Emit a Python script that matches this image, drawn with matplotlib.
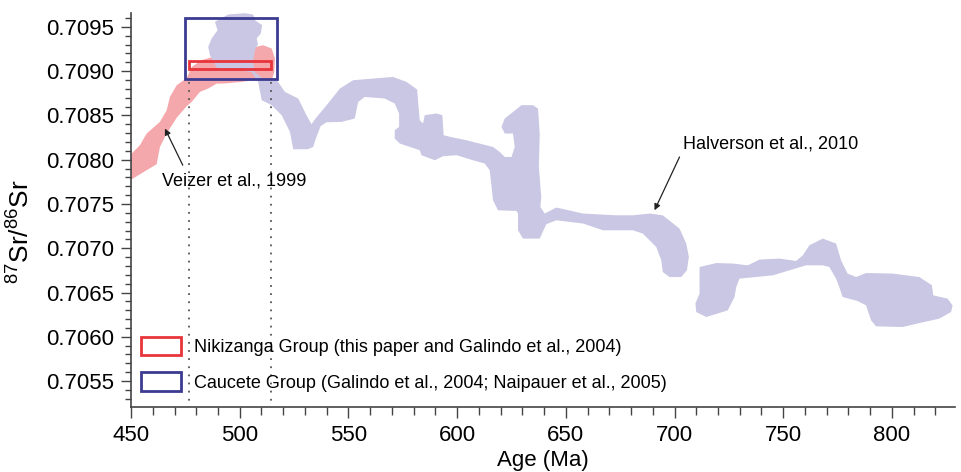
import matplotlib
matplotlib.use("Agg")
import matplotlib.pyplot as plt
from matplotlib.patches import Polygon, Rectangle, Patch
from matplotlib.ticker import MultipleLocator, FormatStrFormatter

plt.rcParams['font.family'] = ['Liberation Sans', 'DejaVu Sans']
plt.rcParams['mathtext.fontset'] = 'custom'
plt.rcParams['mathtext.rm'] = 'Liberation Sans'
plt.rcParams['mathtext.it'] = 'Liberation Sans'

# Veizer et al. (1999) seawater envelope, outline (age Ma, 87Sr/86Sr)
veizer_age = [450.0, 454.1, 457.2, 463.3, 466.4, 467.9, 471.0, 475.6, 477.9, 482.5,
              486.3, 490.0, 500.1, 507.0, 510.8, 514.7, 516.2, 515.9, 514.7,
              510.2, 506.2, 500.9, 493.2, 489.4, 485.5, 481.7, 477.9, 475.6,
              471.0, 466.4, 463.3, 461.8, 456.4, 450.0]
veizer_sr = [0.708062, 0.708164, 0.708296, 0.708427, 0.708559, 0.708709, 0.708842,
             0.708921, 0.709048, 0.709124, 0.709152, 0.709169, 0.709203, 0.709271,
             0.709293, 0.709256, 0.709143, 0.708992, 0.708898,
             0.708887, 0.708898, 0.708879, 0.708861, 0.708859, 0.708804, 0.708766,
             0.708653, 0.708604, 0.708474, 0.708296, 0.708144, 0.707949, 0.707870,
             0.707774]

# Halverson et al. (2010) envelope, main part
halverson_age = [490.1, 486.3, 485.5, 487.1, 489.8, 488.6, 494.7, 502.4, 506.2, 507.0,
                 510.3, 509.7, 507.8, 508.4, 507.0, 506.1, 507.0, 510.2, 513.9, 517.1,
                 520.8, 526.9, 530.7, 533.0, 535.0, 539.2, 543.0, 546.1, 552.2, 570.5,
                 576.7, 581.6, 582.0, 582.8, 584.3, 585.1, 590.5, 593.2, 593.8, 598.1,
                 604.3, 616.5, 619.6, 621.9, 625.0, 626.5, 625.7, 621.9, 620.4, 621.9,
                 629.6, 634.9, 637.2, 638.0, 637.6, 638.7, 638.3, 640.3, 645.6, 657.9,
                 673.2, 680.8, 688.5, 694.6, 702.3, 705.4, 706.6, 705.7, 703.1, 697.7,
                 694.6, 693.9, 691.6, 685.4, 680.8, 667.1, 657.9, 645.6, 641.0, 638.0,
                 630.3, 628.0, 628.0, 627.3, 618.8, 616.5, 615.0, 612.7, 607.3, 599.7,
                 593.5, 589.7, 583.6, 582.8, 573.6, 571.3, 571.3, 573.3, 573.3, 571.3,
                 566.7, 557.5, 554.5, 553.7, 552.9, 546.8, 539.9, 537.2, 535.0, 533.8,
                 531.3, 524.6, 523.1, 519.3, 514.7, 510.1, 508.5, 505.6, 500.1, 493.2]
halverson_sr = [0.709011, 0.709180, 0.709274, 0.709369, 0.709463, 0.709557, 0.709640,
                0.709655, 0.709640, 0.709576, 0.709519, 0.709426, 0.709369, 0.709305,
                0.709237, 0.709101, 0.708988, 0.708921, 0.708898, 0.708898, 0.708766,
                0.708691, 0.708503, 0.708401, 0.708469, 0.708593, 0.708709, 0.708804,
                0.708898, 0.708935, 0.708879, 0.708793, 0.708672, 0.708446, 0.708409,
                0.708503, 0.708522, 0.708503, 0.708276, 0.708251, 0.708220, 0.708144,
                0.708088, 0.708031, 0.708031, 0.708144, 0.708296, 0.708296, 0.708370,
                0.708465, 0.708616, 0.708616, 0.708578, 0.708296, 0.707918, 0.707579,
                0.707466, 0.707392, 0.707460, 0.707392, 0.707372, 0.707372, 0.707392,
                0.707372, 0.707222, 0.707053, 0.706901, 0.706751, 0.706675, 0.706675,
                0.706732, 0.706864, 0.707014, 0.707166, 0.707203, 0.707203, 0.707279,
                0.707316, 0.707271, 0.707109, 0.707109, 0.707203, 0.707392, 0.707421,
                0.707429, 0.707542, 0.707881, 0.707957, 0.707994, 0.708051, 0.708039,
                0.707994, 0.708051, 0.708107, 0.708183, 0.708239, 0.708333, 0.708370,
                0.708522, 0.708635, 0.708691, 0.708709, 0.708653, 0.708559, 0.708465,
                0.708427, 0.708423, 0.708378, 0.708239, 0.708144, 0.708118, 0.708118,
                0.708314, 0.708503, 0.708616, 0.708672, 0.708879, 0.708988, 0.709011,
                0.709011]

# Halverson et al. (2010) envelope, older part
halverson_old_age = [711.5, 719.2, 726.8, 733.7, 739.1, 748.3, 755.9, 759.0, 762.0, 768.2,
                     774.3, 776.6, 779.6, 783.5, 788.1, 800.3, 812.6, 818.4, 819.0, 825.6,
                     827.9, 827.2, 821.8, 812.6, 804.9, 792.7, 790.4, 788.1, 784.2, 777.3,
                     775.8, 774.3, 771.2, 768.2, 760.5, 752.9, 745.2, 729.9, 728.4, 727.6,
                     724.5, 714.6, 710.0, 709.6, 711.5]
halverson_old_sr = [0.706788, 0.706833, 0.706827, 0.706807, 0.706872, 0.706883, 0.706856,
                    0.706920, 0.707033, 0.707109, 0.707053, 0.706864, 0.706714, 0.706675,
                    0.706720, 0.706714, 0.706675, 0.706582, 0.706468, 0.706431, 0.706355,
                    0.706280, 0.706205, 0.706155, 0.706110, 0.706118, 0.706186, 0.706355,
                    0.706404, 0.706449, 0.706562, 0.706657, 0.706788, 0.706807, 0.706807,
                    0.706751, 0.706694, 0.706657, 0.706562, 0.706449, 0.706299, 0.706223,
                    0.706280, 0.706375, 0.706488]

# sample group ranges
nikizanga_age = (476.8, 514.6)
nikizanga_sr = (0.70902, 0.70911)
caucete_age = (474.8, 517.2)
caucete_sr = (0.70891, 0.70960)

pink = '#F5A8AC'
lavender = '#C9C7E3'
red = '#E8343B'
blue = '#3B3B92'

fig = plt.figure(figsize=(9.62, 4.72), dpi=100)
ax = fig.add_axes([0.1362, 0.1383, 0.8565, 0.8347])

ax.add_patch(Polygon(list(zip(veizer_age, veizer_sr)), closed=True,
                     facecolor=pink, edgecolor='none', zorder=1))
ax.add_patch(Polygon(list(zip(halverson_age, halverson_sr)), closed=True,
                     facecolor=lavender, edgecolor='none', zorder=2))
ax.add_patch(Polygon(list(zip(halverson_old_age, halverson_old_sr)), closed=True,
                     facecolor=lavender, edgecolor='none', zorder=2))

# dotted guides down from the boxes
for a in nikizanga_age:
    ax.plot([a, a], [0.7050, caucete_sr[0]], color='#555555', lw=1.3,
            ls=(0, (1, 3.5)), zorder=3)

ax.add_patch(Rectangle((nikizanga_age[0], nikizanga_sr[0]),
                       nikizanga_age[1] - nikizanga_age[0],
                       nikizanga_sr[1] - nikizanga_sr[0],
                       facecolor='none', edgecolor=red, lw=2, zorder=4))
ax.add_patch(Rectangle((caucete_age[0], caucete_sr[0]),
                       caucete_age[1] - caucete_age[0],
                       caucete_sr[1] - caucete_sr[0],
                       facecolor='none', edgecolor=blue, lw=2, zorder=4))

arrow = dict(arrowstyle='-|>', color='#222222', lw=0.9, mutation_scale=9,
             shrinkA=0, shrinkB=0)
ax.annotate('', xy=(465.6, 0.708352), xytext=(473.8, 0.707938), arrowprops=arrow)
ax.text(497.3, 0.707757, 'Veizer et al., 1999', fontsize=13, ha='center', va='center')
ax.annotate('', xy=(690.8, 0.707429), xytext=(702.3, 0.708031), arrowprops=arrow)
ax.text(744.4, 0.708175, 'Halverson et al., 2010', fontsize=13, ha='center', va='center')

handles = [Patch(facecolor='none', edgecolor=red, lw=2,
                 label='Nikizanga Group (this paper and Galindo et al., 2004)'),
           Patch(facecolor='none', edgecolor=blue, lw=2,
                 label='Caucete Group (Galindo et al., 2004; Naipauer et al., 2005)')]
ax.legend(handles=handles, loc='lower left', bbox_to_anchor=(-0.003, 0.006),
          frameon=False, fontsize=13, handlelength=2.2, handleheight=1.2,
          handletextpad=0.75, labelspacing=0.9, borderaxespad=0.3)

ax.set_xlim(450, 829)
ax.set_ylim(0.70521, 0.70966)
ax.xaxis.set_major_locator(MultipleLocator(50))
ax.xaxis.set_minor_locator(MultipleLocator(10))
ax.yaxis.set_major_locator(MultipleLocator(0.0005))
ax.yaxis.set_minor_locator(MultipleLocator(0.0001))
ax.yaxis.set_major_formatter(FormatStrFormatter('%.4f'))

for side in ('top', 'right'):
    ax.spines[side].set_visible(False)
for side in ('left', 'bottom'):
    ax.spines[side].set_color('#444444')
    ax.spines[side].set_linewidth(1.2)

ax.tick_params(axis='both', which='major', labelsize=16, color='#444444',
               width=1, direction='out')
ax.tick_params(axis='y', which='major', length=7, pad=5)
ax.tick_params(axis='y', which='minor', length=4.5, width=1, color='#444444')
ax.tick_params(axis='x', which='major', length=8, pad=5)
ax.tick_params(axis='x', which='minor', length=5.5, width=1, color='#444444')

ax.set_xlabel('Age (Ma)', fontsize=16, labelpad=3)
ax.set_ylabel(r'$^{87}$Sr/$^{86}$Sr', fontsize=19)
ax.yaxis.set_label_coords(-0.117, 0.445)

fig.savefig('out.png', dpi=100)
